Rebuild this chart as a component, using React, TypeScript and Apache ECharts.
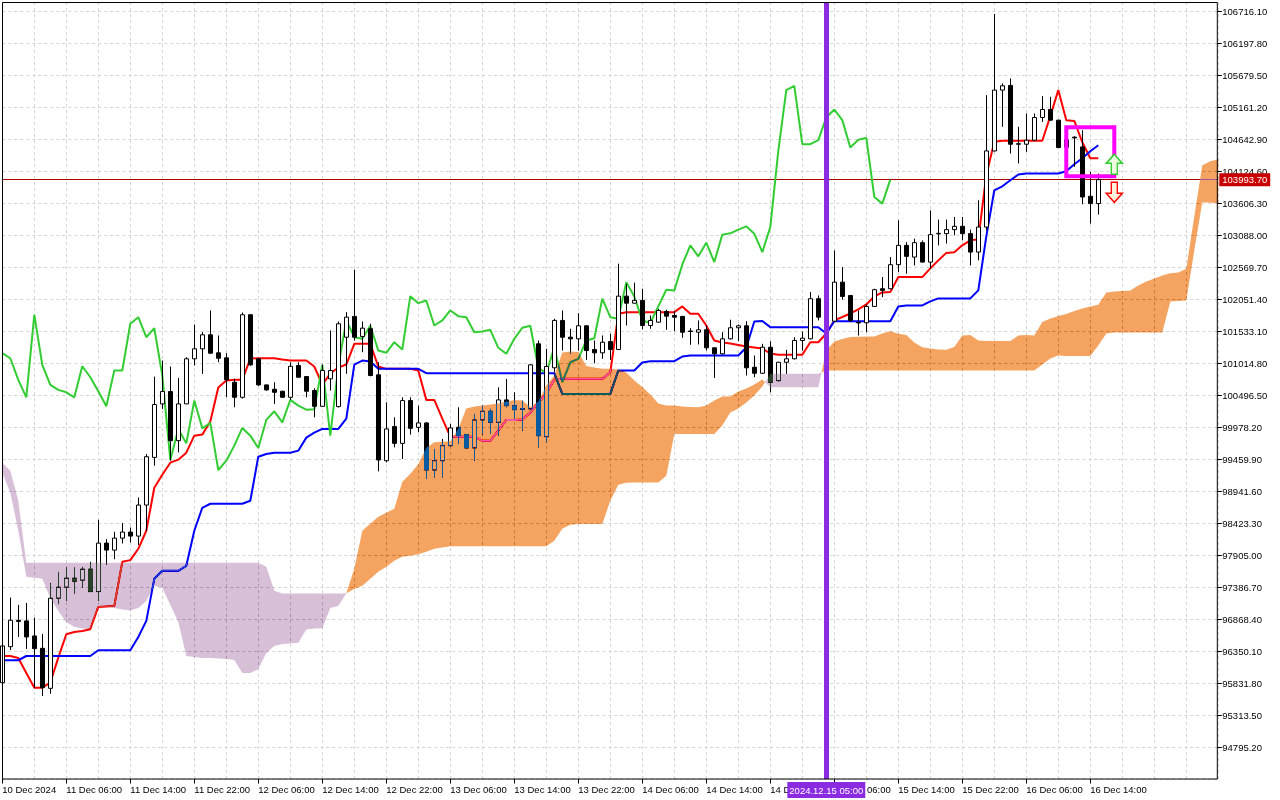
import React, { useEffect, useRef } from "react";
import * as echarts from "echarts";

// ---------- categories (H1 bars, first bar 2024.12.10 22:00) ----------
const startTime = Date.UTC(2024, 11, 10, 22, 0);
const barCount = 153;
const pad = (n: number) => String(n).padStart(2, "0");
const categories: string[] = Array.from({ length: barCount }, (_, i) => {
  const d = new Date(startTime + i * 3600000);
  return `${d.getUTCFullYear()}.${pad(d.getUTCMonth() + 1)}.${pad(d.getUTCDate())} ${pad(d.getUTCHours())}:00`;
});

const tickLabels = [
  "10 Dec 2024", "11 Dec 06:00", "11 Dec 14:00", "11 Dec 22:00", "12 Dec 06:00", "12 Dec 14:00",
  "12 Dec 22:00", "13 Dec 06:00", "13 Dec 14:00", "13 Dec 22:00", "14 Dec 06:00", "14 Dec 14:00",
  "14 Dec 22:00", "15 Dec 06:00", "15 Dec 14:00", "15 Dec 22:00", "16 Dec 06:00", "16 Dec 14:00",
];

// ---------- candles: [open, close, low, high] ----------
const ohlc = [
  [95838, 96434, 95784, 96515], [96422, 96851, 96369, 97218], [96848, 96832, 96580, 97100], [96840, 96580, 96385, 97132],
  [96596, 96390, 95757, 96893], [96396, 95757, 95622, 96629], [95747, 97208, 95659, 97452], [97208, 97387, 97111, 97635],
  [97387, 97533, 97164, 97705], [97533, 97484, 97283, 97705], [97500, 97679, 97380, 97716], [97679, 97315, 97311, 97798],
  [97315, 98101, 97164, 98480], [98101, 97988, 97749, 98166], [97988, 98182, 97841, 98285], [98182, 98280, 98095, 98426],
  [98280, 98215, 98111, 98354], [98215, 98718, 98069, 98842], [98718, 99502, 98301, 99546], [99491, 100347, 99356, 100801],
  [100358, 100558, 100277, 101061], [100558, 99762, 99437, 100964], [99762, 100358, 99572, 100780], [100358, 101089, 100355, 101115],
  [101089, 101251, 100980, 101645], [101251, 101478, 100845, 101520], [101478, 101180, 101170, 101873], [101186, 101098, 101033, 101467],
  [101105, 100748, 100465, 101180], [100709, 100465, 100303, 100764], [100465, 101803, 100444, 101840], [101803, 100991, 100975, 101815],
  [101089, 100666, 100650, 101095], [100666, 100585, 100570, 100672], [100595, 100546, 100358, 100709], [100563, 100465, 100455, 100570],
  [100465, 100968, 100423, 101033], [100980, 100790, 100780, 101033], [100801, 100563, 100465, 100805], [100574, 100319, 100140, 100611],
  [100319, 100899, 100310, 100996], [100764, 100899, 100574, 101548], [100314, 101657, 100300, 101694], [101439, 101764, 100845, 101845],
  [101776, 101439, 101386, 102534], [101451, 101586, 101196, 101694], [101576, 100818, 100805, 101657], [100829, 99449, 99264, 101033],
  [99437, 99952, 99410, 100384], [99990, 99718, 99653, 100140], [99718, 100412, 99465, 100465], [100412, 99962, 99860, 100465],
  [99978, 100050, 99897, 100330], [100050, 99286, 99140, 100060], [99286, 99437, 99166, 99627], [99437, 99681, 99166, 99790],
  [99681, 99968, 99670, 100033], [99978, 99843, 99709, 100303], [99860, 99644, 99630, 99870], [99644, 100098, 99437, 100196],
  [100098, 100238, 99860, 100330], [100238, 100059, 99871, 100277], [100059, 100423, 99843, 100627], [100423, 100330, 100303, 100764],
  [100330, 100265, 100114, 100546], [100282, 100270, 99924, 100412], [100277, 100991, 100260, 101000], [101332, 99843, 99653, 101386],
  [99827, 100964, 99735, 101251], [100943, 101711, 100866, 101738], [101711, 101439, 101223, 101873], [101439, 101413, 101170, 101576],
  [101413, 101624, 101223, 101829], [101624, 101223, 101072, 101630], [101240, 101186, 101017, 101386], [101186, 101358, 101089, 101467],
  [101369, 101240, 101072, 101495], [101240, 102105, 101230, 102631], [102105, 101991, 101629, 102306], [101991, 102035, 101986, 102323],
  [102035, 101629, 101564, 102225], [101629, 101711, 101576, 101792], [101683, 101873, 101675, 101900], [101857, 101780, 101559, 101884],
  [101792, 101764, 101537, 101861], [101776, 101520, 101430, 101785], [101540, 101532, 101316, 101586], [101520, 101559, 101321, 101711],
  [101559, 101267, 101223, 101629], [101267, 101170, 100780, 101272], [101170, 101413, 101160, 101520], [101413, 101592, 101402, 101722],
  [101592, 101624, 101374, 101645], [101624, 100943, 100818, 101699], [100952, 100855, 100790, 101142], [100855, 101277, 100845, 101332],
  [101277, 100709, 100546, 101374], [100736, 101033, 100720, 101040], [101033, 101089, 100845, 101235], [101089, 101386, 101080, 101439],
  [101386, 101423, 101223, 101532], [101413, 102063, 101405, 102170], [102063, 101764, 101711, 102116], [101764, 101740, 101467, 102035],
  [101699, 102332, 101690, 102847], [102332, 102100, 102047, 102576], [102116, 101711, 101683, 102120], [101678, 101670, 101467, 101873],
  [101673, 101938, 101520, 101970], [101938, 102209, 101930, 102225], [102225, 102198, 102089, 102414], [102225, 102615, 102215, 102738],
  [102615, 102928, 102495, 103334], [102928, 102750, 102469, 102982], [102738, 102972, 102603, 103037], [102972, 102657, 102650, 103009],
  [102657, 103102, 102550, 103496], [103115, 103123, 102928, 103345], [103118, 103183, 102956, 103345], [103183, 103237, 103090, 103388],
  [103237, 103118, 103009, 103388], [103118, 102819, 102603, 103183], [102819, 103225, 102685, 103659], [103225, 104459, 103172, 105364],
  [104459, 105445, 104450, 106679], [105445, 105515, 104849, 105554], [105521, 104568, 104417, 105635], [104576, 104568, 104255, 104849],
  [104568, 104633, 104443, 105066], [104633, 105001, 104625, 105066], [105001, 105131, 104930, 105347], [105131, 104958, 104950, 105336],
  [104958, 104514, 104505, 104965], [104519, 104640, 104470, 104795], [104682, 104670, 104200, 104698], [104524, 103712, 103594, 104795],
  [103724, 103605, 103280, 104118], [103605, 103993.7, 103427, 104092],
];

// ---------- Ichimoku lines ----------
const tenkan = [
  96271, 96271, 96239, 95995, 95757, 95757, 95838, 96244, 96624, 96661,
  96677, 96705, 97067, 97075, 97083, 97798, 97825, 98009, 98301, 98999,
  99210, 99405, 99454, 99567, 99843, 99860, 100071, 100623, 100736, 100748,
  100748, 101093, 101098, 101098, 101098, 101077, 101061, 101061, 101061, 100964,
  100671, 100850, 100947, 100996, 101332, 101332, 101332, 100964, 100926, 100926,
  100926, 100926, 100899, 100423, 100423, 100119, 99827, 99827, 99827, 99827,
  99762, 99762, 99924, 100098, 100098, 100103, 100217, 100379, 100525, 100753,
  100764, 100764, 100764, 100764, 100764, 100764, 100866, 101819, 101845, 101845,
  101845, 101845, 101845, 101845, 101845, 101938, 101819, 101819, 101629, 101386,
  101353, 101337, 101313, 101288, 101272, 101256, 101175, 101154, 101154, 101154,
  101154, 101358, 101358, 101499, 101711, 101767, 101824, 101889, 101970, 102100,
  102165, 102170, 102414, 102414, 102414, 102414, 102555, 102685, 102806, 102815,
  102928, 103009, 103026, 104065, 104609, 104625, 104625, 104625, 104625, 104625,
  104625, 105023, 105445, 104958, 104946, 104600, 104341, 104341,
];

const kijun = [
  96202, 96202, 96202, 96271, 96271, 96271, 96271, 96271, 96271, 96271,
  96271, 96271, 96364, 96364, 96364, 96364, 96364, 96580, 96840, 97522,
  97652, 97652, 97652, 97733, 98301, 98674, 98739, 98739, 98739, 98739,
  98739, 98788, 99502, 99546, 99567, 99567, 99567, 99600, 99811, 99892,
  99952, 99952, 99952, 100119, 100996, 101061, 101045, 100926, 100926, 100926,
  100926, 100926, 100926, 100855, 100855, 100855, 100855, 100855, 100855, 100855,
  100855, 100855, 100855, 100855, 100855, 100855, 100855, 100855, 100855, 100855,
  100520, 100520, 100520, 100520, 100520, 100520, 100520, 100899, 100899, 100899,
  101029, 101050, 101050, 101050, 101050, 101126, 101142, 101142, 101142, 101142,
  101142, 101142, 101142, 101272, 101694, 101702, 101602, 101602, 101602, 101602,
  101602, 101602, 101602, 101499, 101699, 101699, 101699, 101699, 101699, 101699,
  101699, 101699, 101938, 101954, 101954, 101954, 102019, 102068, 102068, 102068,
  102068, 102068, 102198, 103074, 103821, 103886, 103984, 104076, 104092, 104092,
  104092, 104092, 104092, 104130, 104243, 104341, 104454, 104552,
];

// Senkou spans as displayed (already shifted 26 bars forward)
const spanA = [
  99243, 98918, 98301, 97554, 97538, 97522, 97213, 97002, 96823, 96742,
  96718, 96705, 97067, 97075, 97051, 97026, 97010, 97051, 97164, 97408,
  97375, 97100, 96823, 96271, 96255, 96239, 96239, 96231, 96223, 96206,
  95995, 95995, 96060, 96320, 96434, 96466, 96475, 96487, 96702, 96718,
  96721, 97051, 97083, 97290, 97684, 98301, 98415, 98528, 98593, 98658,
  99097, 99226, 99381, 99649, 99738, 99746, 99754, 99957, 100282, 100314,
  100330, 100347, 100363, 100395, 100420, 100412, 100306, 100395, 100655, 100818,
  101191, 101207, 101199, 100972, 100947, 100926, 100926, 100915, 100866, 100736,
  100631, 100509, 100363, 100330, 100330, 100314, 100306, 100303, 100330, 100412,
  100477, 100477, 100558, 100606, 100671, 100753, 100627, 100627, 100627, 100627,
  100627, 100627, 100627, 101223, 101369, 101410, 101443, 101446, 101451, 101451,
  101499, 101537, 101495, 101475, 101353, 101277, 101256, 101240, 101235, 101280,
  101467, 101475, 101386, 101378, 101378, 101378, 101378, 101467, 101475, 101467,
  101686, 101743, 101783, 101816, 101865, 101905, 101938, 101965, 102165, 102181,
  102190, 102198, 102279, 102344, 102392, 102441, 102474, 102490, 102547, 103399,
  104227, 104292, 104325,
];

const spanB = [
  99405, 99275, 98788, 97781, 97781, 97781, 97781, 97781, 97781, 97781,
  97781, 97781, 97781, 97781, 97781, 97781, 97781, 97781, 97781, 97781,
  97781, 97781, 97781, 97781, 97781, 97781, 97781, 97781, 97781, 97781,
  97781, 97781, 97781, 97716, 97327, 97283, 97283, 97283, 97283, 97283,
  97283, 97283, 97283, 97290, 97359, 97408, 97522, 97635, 97716, 97814,
  97879, 97895, 97919, 97960, 98009, 98030, 98049, 98049, 98049, 98049,
  98049, 98049, 98049, 98049, 98049, 98049, 98049, 98049, 98049, 98139,
  98333, 98398, 98410, 98410, 98410, 98410, 98788, 99048, 99080, 99085,
  99085, 99085, 99085, 99194, 99871, 99871, 99871, 99871, 99871, 99871,
  100006, 100217, 100282, 100379, 100493, 100639, 100845, 100845, 100845, 100845,
  100845, 100845, 100845, 100899, 100899, 100899, 100899, 100899, 100899, 100899,
  100899, 100899, 100899, 100899, 100899, 100899, 100899, 100899, 100899, 100899,
  100899, 100899, 100899, 100899, 100899, 100899, 100899, 100899, 100899, 100899,
  100996, 101093, 101142, 101134, 101134, 101134, 101134, 101305, 101499, 101516,
  101516, 101516, 101516, 101516, 101516, 101516, 102019, 102027, 102035, 102847,
  103627, 103618, 103610,
];

// Chikou span = close shifted 26 bars back
const closes = ohlc.map((c) => c[1]);
const chikou = closes.slice(26);

const lastPrice = closes[closes.length - 1];
const markerBar = 103; // 2024.12.15 05:00
const boxBars = [133, 139];
const boxPrices = [104844, 104049];
const arrowBar = 139;
const arrowUpPrice = 104243;
const arrowDownPrice = 103789;

// ---------- styles ----------
const FONT = "Liberation Sans";
const GRID = "#d4d4d4";
const BULL_XOR = "#0b5b9f"; // difference-blended -> sandy brown on white
const BEAR_XOR = "#274027"; // difference-blended -> thistle on white

function renderCloud(_params: any, api: any) {
  const n = spanA.length;
  const pa = spanA.map((v, i) => api.coord([i, v]));
  const pb = spanB.map((v, i) => api.coord([i, v]));
  const runs: any[] = [];
  let cur: any = null;
  const push = (sign: number, a0: number[], a1: number[], b0: number[], b1: number[]) => {
    if (!cur || cur.sign !== sign) {
      cur = { sign, top: [a0], bot: [b0] };
      runs.push(cur);
    }
    cur.top.push(a1);
    cur.bot.push(b1);
  };
  for (let i = 0; i < n - 1; i++) {
    const d0 = spanA[i] - spanB[i];
    const d1 = spanA[i + 1] - spanB[i + 1];
    if (d0 * d1 < 0) {
      const t = d0 / (d0 - d1);
      const x = [pa[i][0] + t * (pa[i + 1][0] - pa[i][0]), pa[i][1] + t * (pa[i + 1][1] - pa[i][1])];
      push(Math.sign(d0), pa[i], x, pb[i], x);
      push(Math.sign(d1), x, pa[i + 1], x, pb[i + 1]);
    } else {
      const s = Math.sign(d0 + d1);
      if (s === 0) continue;
      push(s, pa[i], pa[i + 1], pb[i], pb[i + 1]);
    }
  }
  return {
    type: "group",
    children: runs.map((r) => ({
      type: "polygon",
      shape: { points: r.top.concat(r.bot.slice().reverse()) },
      style: { fill: r.sign > 0 ? BULL_XOR : BEAR_XOR, stroke: "none", lineWidth: 0 },
      silent: true,
    })),
  };
}

const lineSeries = (name: string, data: number[], color: string) => ({
  type: "line",
  name,
  data,
  z: 2,
  silent: true,
  symbol: "none",
  showSymbol: false,
  lineStyle: { color, width: 2 },
  emphasis: { disabled: true },
});

function buildOption() {
  const labelShown = (i: number) => i % 8 === 0 && i < ohlc.length;
  return {
    animation: false,
    backgroundColor: "#ffffff",
    grid: { left: 2.3, top: 2, width: 1216, height: 777, outerBoundsMode: "none", containLabel: false },
    xAxis: {
      type: "category",
      data: categories,
      boundaryGap: false,
      axisLine: { show: false },
      axisTick: { show: true, length: 4.5, interval: (i: number) => labelShown(i), lineStyle: { color: "#000" } },
      axisLabel: {
        interval: (i: number) => labelShown(i),
        formatter: (_v: string, i: number) => tickLabels[i / 8] ?? "",
        align: "left",
        margin: 5,
        color: "#000",
        fontFamily: FONT,
        fontSize: 9.5,
      },
      splitLine: { show: true, interval: 3, lineStyle: { color: GRID, width: 1, type: [3, 3] } },
    },
    yAxis: {
      type: "value",
      position: "right",
      min: 94276.9,
      max: 106873.4,
      interval: 518.3,
      offset: -1,
      scale: true,
      axisLine: { show: false },
      axisTick: { show: true, length: 4.5, lineStyle: { color: "#000" } },
      axisLabel: {
        margin: 5,
        formatter: (v: number) => v.toFixed(2),
        showMinLabel: false,
        showMaxLabel: false,
        color: "#000",
        fontFamily: FONT,
        fontSize: 9.5,
      },
      splitLine: { show: true, lineStyle: { color: GRID, width: 1, type: [3, 3] } },
    },
    graphic: [
      {
        type: "rect",
        z: 100,
        silent: true,
        shape: { x: 2.5, y: 2.5, width: 1214.8, height: 776.5 },
        style: { fill: "none", stroke: "#000", lineWidth: 1 },
      },
    ],
    series: [
      {
        type: "candlestick",
        name: "BTCUSD,H1",
        data: ohlc,
        barWidth: 4,
        z: 2,
        silent: true,
        itemStyle: {
          color: "#ffffff",
          color0: "#000000",
          borderColor: "#000000",
          borderColor0: "#000000",
          borderColorDoji: "#000000",
          borderWidth: 1,
        },
        emphasis: { disabled: true },
      },
      {
        ...lineSeries("Tenkan-sen", tenkan, "#ff0000"),
        clip: false,
        markLine: {
          silent: true,
          z: 5,
          symbol: "none",
          animation: false,
          emphasis: { disabled: true },
          lineStyle: { color: "#8a2be2", width: 5, type: "solid" },
          label: {
            show: true,
            position: "start",
            distance: 3,
            formatter: categories[markerBar],
            color: "#ffffff",
            backgroundColor: "#8a2be2",
            padding: [2, 2, 2, 2],
            lineHeight: 12,
            fontFamily: FONT,
            fontSize: 9.5,
          },
          data: [{ xAxis: categories[markerBar] }],
        },
      },
      {
        ...lineSeries("Kijun-sen", kijun, "#0000ff"),
        clip: false,
        markArea: {
          silent: true,
          z: 6,
          emphasis: { disabled: true },
          itemStyle: { color: "rgba(0,0,0,0)", borderColor: "#ff00ff", borderWidth: 4 },
          label: { show: false },
          data: [[
            { coord: [categories[boxBars[0]], boxPrices[0]] },
            { coord: [categories[boxBars[1]], boxPrices[1]] },
          ]],
        },
        markPoint: {
          silent: true,
          z: 6,
          label: { show: false },
          emphasis: { disabled: true },
          data: [
            {
              coord: [categories[arrowBar], arrowUpPrice],
              symbol: "path://M8 0 L16 9 L11 9 L11 20 L5 20 L5 9 L0 9 Z",
              symbolSize: [16, 20],
              itemStyle: { color: "#eefbe0", borderColor: "#32cd32", borderWidth: 1.5 },
            },
            {
              coord: [categories[arrowBar], arrowDownPrice],
              symbol: "path://M5 0 L11 0 L11 11 L16 11 L8 20 L0 11 L5 11 Z",
              symbolSize: [16, 20],
              itemStyle: { color: "#fff1dc", borderColor: "#ff0000", borderWidth: 1.5 },
            },
          ],
        },
      },
      {
        ...lineSeries("Chikou Span", chikou, "#32cd32"),
        clip: false,
        markLine: {
          silent: true,
          z: 2,
          symbol: "none",
          animation: false,
          emphasis: { disabled: true },
          lineStyle: { color: "#a80000", width: 1, type: "solid" },
          label: {
            show: true,
            position: "end",
            distance: 1,
            formatter: (p: any) => Number(p.value).toFixed(2),
            color: "#ffffff",
            backgroundColor: "#c80000",
            padding: [1, 3, 1, 3],
            lineHeight: 11,
            fontFamily: FONT,
            fontSize: 9.5,
          },
          data: [{ yAxis: lastPrice }],
        },
      },
      {
        type: "custom",
        name: "Kumo",
        z: 3,
        clip: false,
        silent: true,
        data: [[0, spanA[0]]],
        renderItem: renderCloud,
      },
    ],
  };
}

const blendCss = `[fill="${BULL_XOR}"],[fill="${BEAR_XOR}"]{mix-blend-mode:difference;}`;

export default function App() {
  const ref = useRef<HTMLDivElement>(null);
  useEffect(() => {
    document.body.style.margin = "0";
    const el = ref.current as HTMLDivElement;
    const chart = echarts.init(el, null, { renderer: "svg" });
    chart.setOption(buildOption() as any);
    const applyBlend = () => {
      el.querySelectorAll("[fill]").forEach((node) => {
        const f = (node.getAttribute("fill") || "").toLowerCase().replace(/\s/g, "");
        if (f === BULL_XOR || f === BEAR_XOR || f === "rgb(11,91,159)" || f === "rgb(39,64,39)") {
          (node as SVGElement).style.mixBlendMode = "difference";
        }
      });
    };
    applyBlend();
    chart.on("finished", applyBlend);
    return () => {
      chart.dispose();
    };
  }, []);
  return (
    <>
      <style>{blendCss}</style>
      <div ref={ref} style={{ width: 1280, height: 800 }} />
    </>
  );
}
